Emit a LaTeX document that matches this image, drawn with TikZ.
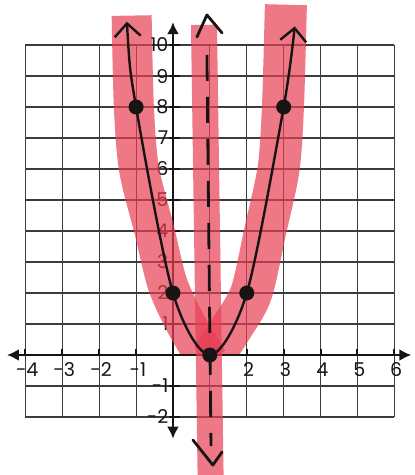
\documentclass[tikz,border=0pt]{standalone}
\usepackage{fontspec}
\setmainfont{Poppins}
\usepackage{tikz}
\usetikzlibrary{arrows.meta, positioning}
\definecolor{HL}{RGB}{232,62,84}
\definecolor{GR}{RGB}{60,60,60}
\definecolor{INK}{RGB}{25,20,20}

\begin{document}
\begin{tikzpicture}[
  x=36.9pt, y=31pt,
  gridln/.style={draw=GR, line width=1.1pt},
  axis/.style={draw=INK, line width=2.8pt, {Latex[length=12pt,width=12pt]}-{Latex[length=12pt,width=12pt]}},
  tick/.style={draw=INK, line width=2pt},
  lbl/.style={font=\fontsize{19}{19}\selectfont, text=INK, inner sep=0pt},
  hl/.style={draw=HL, opacity=0.7, line cap=butt, line join=round},
  curve/.style={draw=INK, line width=2.4pt,
                {Straight Barb[length=13pt,width=26pt,line width=2.4pt]}-{Straight Barb[length=13pt,width=26pt,line width=2.4pt]}},
  symline/.style={draw=INK, line width=2.8pt, dash pattern=on 26pt off 16pt},
  chev/.style={draw=INK, line width=2.8pt, line cap=round, line join=round},
  pt/.style={circle, fill=INK, minimum size=15pt, inner sep=0pt}
]
\useasboundingbox (-4.688,-3.871) rectangle (6.558,11.452);

% Grid
\foreach \x in {-4,...,6} \draw[gridln] (\x,-2) -- (\x,10);
\foreach \y in {-2,...,10} \draw[gridln] (-4,\y) -- (6,\y);

% Axes
\coordinate (xl) at (-4.5,0);
\coordinate (xr) at (6.46,0);
\coordinate (yb) at (0,-2.7);
\coordinate (yt) at (0,10.74);
\draw[axis] (xl) -- (xr);
\draw[axis] (yb) -- (yt);

% Ticks and labels
\foreach \x in {-4,...,6} \draw[tick] (\x,0) -- (\x,0.2);
\foreach \y in {-2,...,10} \draw[tick] (-0.1,\y) -- (0.2,\y);
\foreach \x in {-4,-3,-2,-1,2,3,4,5,6}
  \node[lbl] (xl\x) at (\x+0.05,-0.47) {\x};
\foreach \y in {-2,-1,1,2,...,10}
  \node[lbl, anchor=east] (yl\y) at (-0.12,\y) {\y};

% Highlighter strokes
\begin{scope}
  \clip (-5,0.05) rectangle (7,12);
  \draw[hl, line width=40pt] plot[smooth] coordinates
    {(-1.12,10.95) (-1.06,8) (-0.92,6) (-0.5,4) (-0.15,2.3) (0.35,1) (0.95,-0.2)};
  \draw[hl, line width=42pt] plot[smooth] coordinates
    {(3.06,11.3) (2.98,8) (2.86,6) (2.5,4) (2.12,2) (1.6,0.9) (1.05,-0.1)};
\end{scope}
\coordinate (hlt) at (0.84,10.65);
\coordinate (hlb) at (1.02,-3.95);
\draw[hl, line width=26pt] (hlt) -- (hlb);

% Axis of symmetry
\coordinate (st) at (0.92,9.68);
\coordinate (sb) at (1.03,-2.94);
\draw[symline] (st) -- (sb);
\coordinate (ct) at (0.92,10.97);
\draw[chev] (0.65,10.26) -- (ct) -- (1.33,10.39);
\coordinate (cb) at (1.08,-3.55);
\draw[chev] (0.54,-2.74) -- (cb) -- (1.33,-3.13);

% Parabola
\draw[curve] plot[smooth] coordinates
  {(-1.25,10.75) (-1,8) (0,2) (1,0) (2,2) (3,8) (3.3,10.6)};

% Points
\node[pt] (p1) at (-1,8) {};
\node[pt] (p2) at (0,2) {};
\node[pt] (p3) at (1,0) {};
\node[pt] (p4) at (2,2) {};
\node[pt] (p5) at (3,8) {};
\end{tikzpicture}
\end{document}
